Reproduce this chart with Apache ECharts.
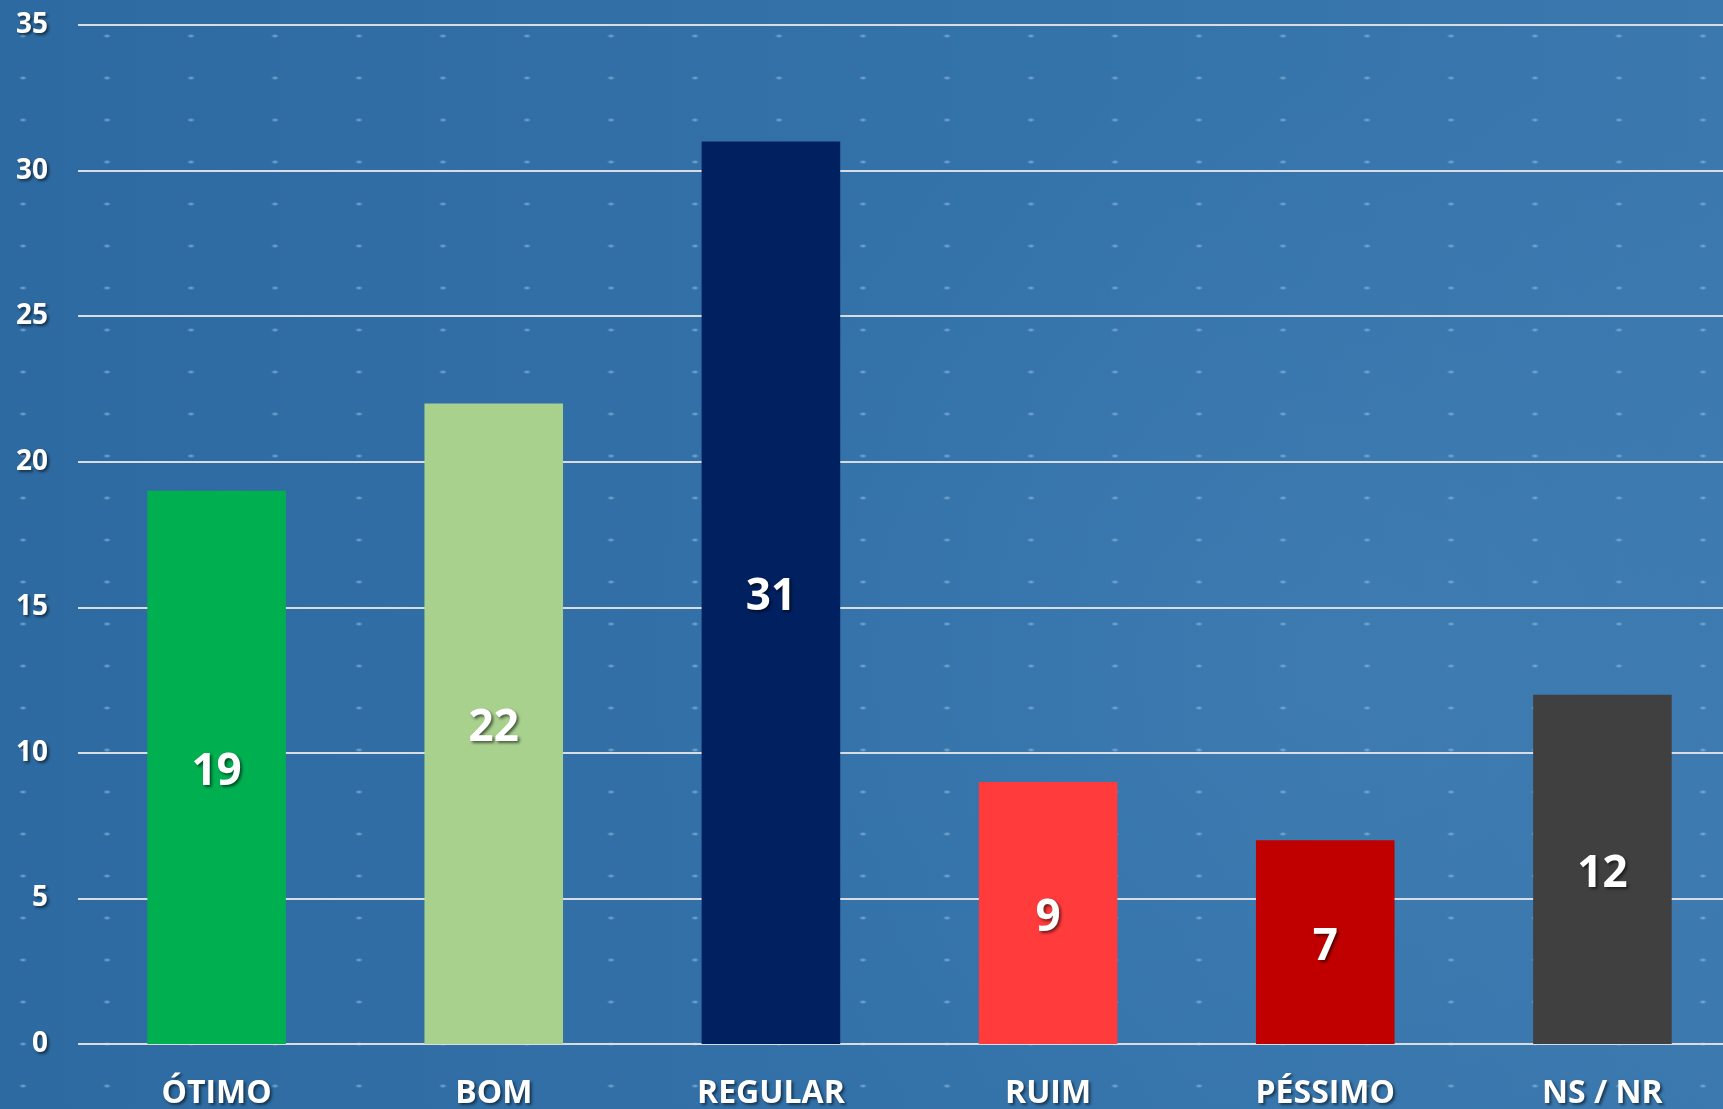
<!DOCTYPE html>
<html>
<head>
<meta charset="utf-8">
<script src="https://cdn.jsdelivr.net/npm/echarts@6/dist/echarts.min.js"></script>
<style>
  html, body { margin: 0; padding: 0; overflow: hidden; }
  #chart {
    width: 1723px; height: 1109px;
    background-color: #2f6ca3;
    background-image:
      radial-gradient(ellipse 4px 2px at 50% 50%, rgba(150,190,230,0.75) 0%, rgba(150,190,230,0.35) 60%, rgba(150,190,230,0) 100%),
      radial-gradient(ellipse 700px 600px at 78% 60%, rgba(80,140,190,0.25), rgba(80,140,190,0)),
      linear-gradient(90deg, #2d6aa1 0%, #3473aa 60%, #3a78ae 100%);
    background-size: 84px 42px, 100% 100%, 100% 100%;
    background-position: -19px 15px, 0 0, 0 0;
  }
</style>
</head>
<body>
<div id="chart"></div>
<script>
  // dados do gráfico
  var categorias = ['ÓTIMO', 'BOM', 'REGULAR', 'RUIM', 'PÉSSIMO', 'NS / NR'];
  var valores = [19, 22, 31, 9, 7, 12];
  var cores = ['#00b050', '#a9d18e', '#002060', '#ff3b3b', '#c00000', '#404040'];
  var ticksY = [0, 5, 10, 15, 20, 25, 30, 35];

  var fonte = '"Open Sans", "Liberation Sans", sans-serif';
  var sombra = {
    textShadowColor: 'rgba(0,0,0,0.55)',
    textShadowBlur: 3,
    textShadowOffsetX: 2,
    textShadowOffsetY: 2
  };

  var myChart = echarts.init(document.getElementById('chart'), null, {renderer: 'canvas'});

  var dados = [];
  for (var i = 0; i < valores.length; i++) {
    dados.push({
      value: valores[i],
      itemStyle: {color: cores[i]}
    });
  }

  var option = {
    backgroundColor: 'transparent',
    animation: false,
    grid: {
      left: 78,
      top: 25,
      width: 1663,
      height: 1019,
      containLabel: false,
      outerBoundsMode: 'none'
    },
    xAxis: {
      type: 'category',
      data: categorias,
      axisLine: {show: false},
      axisTick: {show: false},
      axisLabel: Object.assign({
        color: '#ffffff',
        fontFamily: fonte,
        fontWeight: 'bold',
        fontSize: 32,
        margin: 34,
        interval: 0
      }, sombra)
    },
    yAxis: {
      type: 'value',
      min: ticksY[0],
      max: ticksY[ticksY.length - 1],
      interval: 5,
      axisLine: {show: false},
      axisTick: {show: false},
      splitLine: {
        show: true,
        lineStyle: {color: '#d9dde3', width: 2}
      },
      axisLabel: Object.assign({
        color: '#ffffff',
        fontFamily: fonte,
        fontWeight: 'bold',
        fontSize: 28,
        margin: 30
      }, sombra)
    },
    series: [{
      type: 'bar',
      data: dados,
      barWidth: '50%',
      label: Object.assign({
        show: true,
        position: 'inside',
        offset: [0, 5],
        color: '#ffffff',
        fontFamily: fonte,
        fontWeight: 'bold',
        fontSize: 44
      }, sombra)
    }]
  };

  myChart.setOption(option);
</script>
</body>
</html>
